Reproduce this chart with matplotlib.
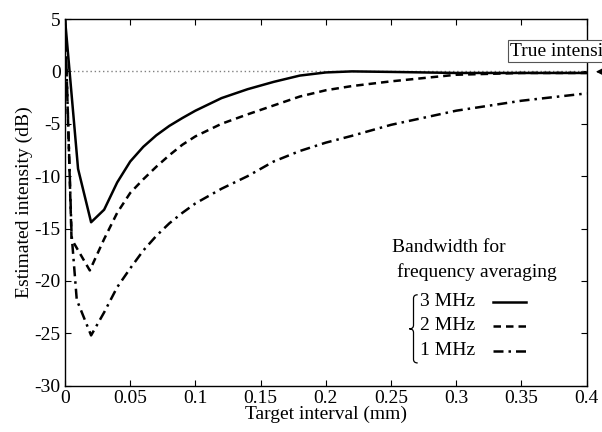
import matplotlib
matplotlib.use('Agg')
import matplotlib.pyplot as plt
from matplotlib.path import Path
from matplotlib.patches import PathPatch

# data
x_3mhz = [0, 0.01, 0.02, 0.03, 0.04, 0.05, 0.06, 0.07, 0.08, 0.09, 0.1, 0.12, 0.14, 0.16, 0.18, 0.2, 0.22, 0.25, 0.3, 0.35, 0.4]
y_3mhz = [5, -9.3, -14.4, -13.2, -10.6, -8.6, -7.2, -6.1, -5.2, -4.45, -3.75, -2.55, -1.7, -1.0, -0.4, -0.1, 0, -0.05, -0.15, -0.15, -0.15]

x_2mhz = [0, 0.005, 0.019, 0.03, 0.04, 0.05, 0.06, 0.07, 0.08, 0.09, 0.1, 0.12, 0.14, 0.16, 0.18, 0.2, 0.22, 0.25, 0.3, 0.35, 0.4]
y_2mhz = [5, -16.0, -19.0, -16.0, -13.5, -11.6, -10.3, -9.1, -8.0, -7.0, -6.2, -5.0, -4.1, -3.25, -2.4, -1.8, -1.4, -0.95, -0.32, -0.15, -0.15]

x_1mhz = [0, 0.005, 0.009, 0.02, 0.03, 0.04, 0.05, 0.06, 0.07, 0.08, 0.09, 0.1, 0.12, 0.14, 0.16, 0.18, 0.2, 0.22, 0.25, 0.3, 0.35, 0.4]
y_1mhz = [5, -15.5, -21.8, -25.2, -23.0, -20.6, -18.8, -17.1, -15.7, -14.5, -13.5, -12.6, -11.2, -10.0, -8.6, -7.6, -6.8, -6.15, -5.1, -3.75, -2.8, -2.1]

xticks = [0, 0.05, 0.1, 0.15, 0.2, 0.25, 0.3, 0.35, 0.4]
xticklabels = ['0', '0.05', '0.1', '0.15', '0.2', '0.25', '0.3', '0.35', '0.4']
yticks = [-30, -25, -20, -15, -10, -5, 0, 5]

legend_labels = ['3 MHz', '2 MHz', '1 MHz']

plt.rcParams['font.family'] = ['Liberation Serif', 'DejaVu Serif']
plt.rcParams['font.size'] = 14
plt.rcParams['axes.unicode_minus'] = False

fig = plt.figure(figsize=(6.02, 4.32), dpi=100)
ax = fig.add_axes([0.108, 0.1072, 0.8666, 0.8488])

ax.axhline(0, color='gray', ls=(0, (1, 2)), lw=1)

styles = ['-', (0, (3, 2)), (0, (4, 2, 1, 2))]
series = [(x_3mhz, y_3mhz), (x_2mhz, y_2mhz), (x_1mhz, y_1mhz)]
for (xs, ys), st in zip(series, styles):
	ax.plot(xs, ys, color='k', ls=st, lw=1.8)

ax.set_xlim(0, 0.4)
ax.set_ylim(-30, 5)
ax.set_xticks(xticks)
ax.set_xticklabels(xticklabels)
ax.set_yticks(yticks)
ax.tick_params(direction='in', top=True, right=True, length=4, labelsize=14, pad=3)
ax.set_xlabel('Target interval (mm)', fontsize=14, labelpad=-1)
ax.set_ylabel('Estimated intensity (dB)', fontsize=14, labelpad=1)
for sp in ax.spines.values():
	sp.set_linewidth(1)

# hand made legend
ax.text(0.627, 0.378, 'Bandwidth for', transform=ax.transAxes, va='center', ha='left', fontsize=14)
ax.text(0.636, 0.310, 'frequency averaging', transform=ax.transAxes, va='center', ha='left', fontsize=14)
rows_y = [0.229, 0.163, 0.095]
for lab, yy, st in zip(legend_labels, rows_y, styles):
	ax.text(0.680, yy, lab, transform=ax.transAxes, va='center', ha='left', fontsize=14)
	ax.plot([0.821, 0.884], [yy, yy], transform=ax.transAxes, color='k', ls=st, lw=1.8)

# brace
bx, top, bot, mid = 0.668, 0.248, 0.062, 0.155
tip = 0.660
verts = [(bx + 0.008, top), (bx, top), (bx, top - 0.01),
	(bx, mid + 0.01), (bx, mid), (tip, mid),
	(bx, mid), (bx, mid - 0.01),
	(bx, bot + 0.01), (bx, bot), (bx + 0.008, bot)]
codes = [Path.MOVETO, Path.CURVE3, Path.CURVE3,
	Path.LINETO, Path.CURVE3, Path.CURVE3,
	Path.CURVE3, Path.CURVE3,
	Path.LINETO, Path.CURVE3, Path.CURVE3]
ax.add_patch(PathPatch(Path(verts, codes), transform=ax.transAxes, fill=False, lw=0.9, color='k'))

# true intensity label, cut by figure edge
fig.text(510 / 602, 1 - 51 / 432, 'True intensity', va='center', ha='left', fontsize=14,
	bbox=dict(boxstyle='square,pad=0.12', fc='white', ec='#555555', lw=0.8))
ax.annotate('', xy=(593 / 602, 1 - 71.7 / 432), xycoords='figure fraction',
	xytext=(1.03, 1 - 71.7 / 432), textcoords='figure fraction',
	arrowprops=dict(arrowstyle='-|>', color='k', lw=1, mutation_scale=16), annotation_clip=False)

fig.savefig('out.png', dpi=100)
